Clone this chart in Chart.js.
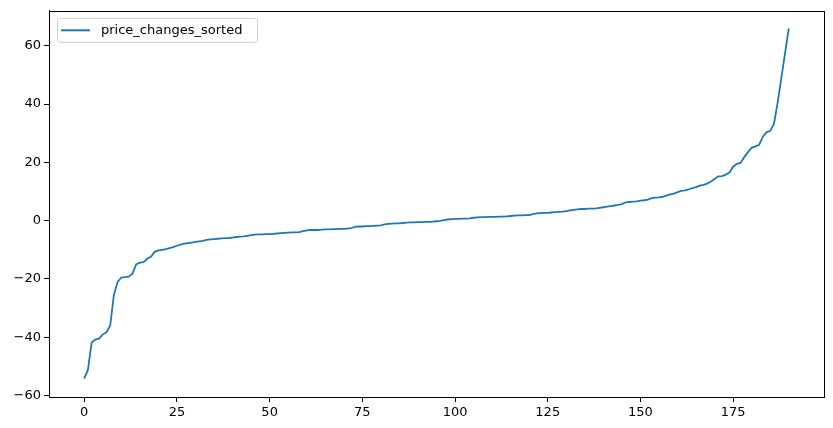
<!DOCTYPE html>
<html lang="en">
<head>
    <meta charset="UTF-8">
    <title>price_changes_sorted</title>
    <script src="https://cdn.jsdelivr.net/npm/chart.js"></script>
    <style>
        html, body { margin: 0; padding: 0; background: #fff; }
        #chart-container { width: 833px; height: 428px; position: relative; }
    </style>
</head>
<body>

<div id="chart-container">
    <canvas id="priceChart"></canvas>
</div>

<script>
    // sorted price changes, index 0..190
    const seriesName = 'price_changes_sorted';
    const priceChanges = [
        -54.2, -51.2, -41.8, -40.8, -40.5, -39.0, -38.3, -36.0, -25.5, -21.0,
        -19.5, -19.4, -19.2, -18.2, -15.0, -14.4, -14.2, -13.0, -12.4, -10.7,
        -10.2, -10.0, -9.8, -9.4, -9.1, -8.6, -8.2, -7.9, -7.7, -7.5,
        -7.3, -7.1, -6.9, -6.6, -6.4, -6.3, -6.2, -6.1, -6.0, -6.0,
        -5.8, -5.6, -5.5, -5.4, -5.2, -5.0, -4.8, -4.7, -4.7, -4.6,
        -4.6, -4.5, -4.4, -4.3, -4.2, -4.1, -4.0, -4.0, -3.9, -3.6,
        -3.3, -3.2, -3.2, -3.2, -3.1, -3.0, -3.0, -2.9, -2.9, -2.8,
        -2.8, -2.7, -2.6, -2.1, -2.0, -2.0, -1.9, -1.9, -1.8, -1.7,
        -1.6, -1.3, -1.1, -1.0, -0.9, -0.9, -0.8, -0.7, -0.6, -0.6,
        -0.5, -0.5, -0.4, -0.4, -0.3, -0.2, -0.1, 0.2, 0.4, 0.5,
        0.6, 0.6, 0.7, 0.7, 0.8, 1.0, 1.1, 1.2, 1.2, 1.3,
        1.3, 1.3, 1.4, 1.4, 1.5, 1.6, 1.7, 1.8, 1.8, 1.9,
        1.9, 2.2, 2.5, 2.6, 2.7, 2.7, 2.8, 2.9, 3.0, 3.1,
        3.3, 3.5, 3.7, 3.9, 4.0, 4.0, 4.1, 4.1, 4.2, 4.4,
        4.6, 4.8, 5.0, 5.2, 5.4, 5.7, 6.3, 6.4, 6.5, 6.6,
        6.9, 7.0, 7.2, 7.7, 7.9, 8.0, 8.2, 8.6, 9.0, 9.3,
        9.8, 10.2, 10.4, 10.7, 11.2, 11.5, 12.0, 12.3, 12.7, 13.4,
        14.3, 15.2, 15.3, 15.8, 16.5, 18.5, 19.5, 19.8, 21.8, 23.5,
        25.0, 25.5, 26.0, 28.8, 30.3, 30.8, 33.2, 40.5, 49.0, 57.5,
        66.0
    ];
    const xTicks = [0, 25, 50, 75, 100, 125, 150, 175];
    const yTicks = [-60, -40, -20, 0, 20, 40, 60];

    const points = priceChanges.map((v, i) => ({ x: i, y: v }));

    // top/right spines + legend box like matplotlib
    const framePlugin = {
        id: 'frame',
        afterDraw(chart) {
            const { ctx, chartArea: a } = chart;
            ctx.save();
            ctx.strokeStyle = '#000';
            ctx.lineWidth = 1;
            ctx.strokeRect(Math.round(a.left) + 0.5, Math.round(a.top) + 0.5,
                Math.round(a.right - a.left), Math.round(a.bottom - a.top));

            // legend
            const lx = a.left + 8, ly = a.top + 7, lw = 200, lh = 24;
            ctx.fillStyle = 'rgba(255,255,255,0.8)';
            ctx.strokeStyle = '#d0d0d0';
            ctx.beginPath();
            ctx.roundRect(lx + 0.5, ly + 0.5, lw, lh, 3);
            ctx.fill();
            ctx.stroke();
            ctx.strokeStyle = '#1f77b4';
            ctx.lineWidth = 2;
            ctx.beginPath();
            ctx.moveTo(lx + 4, ly + 12.5);
            ctx.lineTo(lx + 33, ly + 12.5);
            ctx.stroke();
            ctx.fillStyle = '#000';
            ctx.font = '13px "DejaVu Sans"';
            ctx.textBaseline = 'middle';
            ctx.fillText(chart.data.datasets[0].label, lx + 44, ly + 13);
            ctx.restore();
        }
    };

    new Chart(document.getElementById('priceChart'), {
        type: 'line',
        data: {
            datasets: [{
                label: seriesName,
                data: points,
                borderColor: '#1f77b4',
                borderWidth: 1.8,
                pointRadius: 0,
                tension: 0,
                fill: false
            }]
        },
        options: {
            responsive: true,
            maintainAspectRatio: false,
            animation: false,
            layout: { padding: { top: 10, right: 9, left: 0, bottom: 0 } },
            plugins: { legend: { display: false }, tooltip: { enabled: false } },
            scales: {
                x: {
                    type: 'linear',
                    min: -9.5,
                    max: 199.5,
                    afterFit: (s) => { s.height = 31; },
                    afterBuildTicks: (s) => { s.ticks = xTicks.map(v => ({ value: v })); },
                    grid: { drawOnChartArea: false, color: '#000', tickLength: 5 },
                    border: { color: '#000' },
                    ticks: {
                        color: '#000',
                        padding: 3,
                        maxRotation: 0,
                        font: { family: 'DejaVu Sans', size: 13 }
                    }
                },
                y: {
                    min: -60.5,
                    max: 72,
                    afterFit: (s) => { s.width = 49; },
                    afterBuildTicks: (s) => { s.ticks = yTicks.map(v => ({ value: v })); },
                    grid: { drawOnChartArea: false, color: '#000', tickLength: 5 },
                    border: { color: '#000' },
                    ticks: {
                        color: '#000',
                        padding: 3,
                        font: { family: 'DejaVu Sans', size: 13 },
                        callback: (v) => String(v).replace('-', '\u2212')
                    }
                }
            }
        },
        plugins: [framePlugin]
    });
</script>

</body>
</html>
